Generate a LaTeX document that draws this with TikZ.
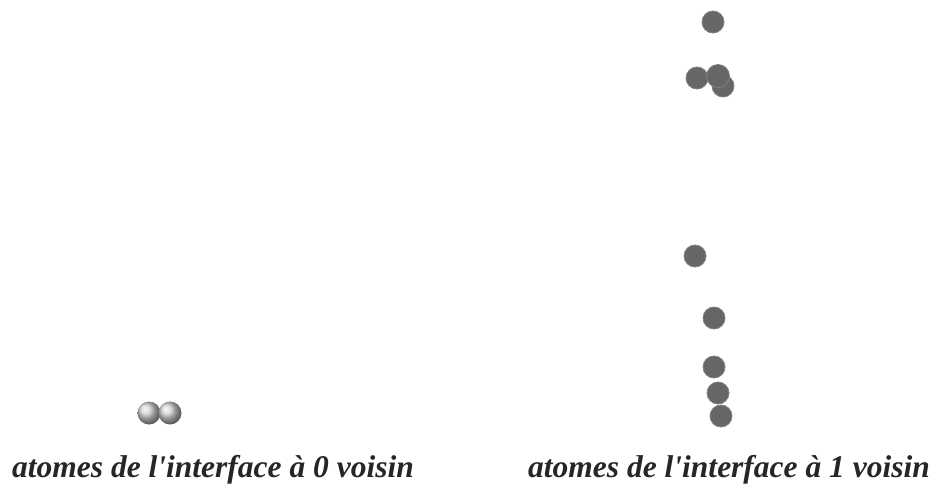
\documentclass[tikz,border=0pt]{standalone}
\usepackage{fontspec}
\newfontfamily\legendefont{Liberation Serif}
\usepackage{tikz}
\usetikzlibrary{positioning}

\begin{document}
\begin{tikzpicture}[
        x=1pt, y=-1pt,
        atome/.style={circle, inner sep=0pt, minimum size=22pt, fill=black!60, draw=black!50, line width=0.8pt},
        atomeclair/.style={circle, inner sep=0pt, minimum size=23pt, shading=ball, ball color=gray!35},
        legende/.style={font=\legendefont\fontsize{31.5}{36}\selectfont\bfseries\itshape, text=black!85, inner sep=0pt, anchor=base}
    ]
        \useasboundingbox (0,0) rectangle (939,496);

        % Interface a 0 voisin
        \node[atomeclair] (g1) at (149,413) {};
        \node[atomeclair] (g2) at (170,413) {};

        % Interface a 1 voisin
        \node[atome] (d1) at (713,22) {};
        \node[atome] (d2) at (697,78) {};
        \node[atome] (d3) at (723,86) {};
        \node[atome, minimum size=23pt] (d4) at (718,76) {};
        \node[atome] (d5) at (695,256) {};
        \node[atome] (d6) at (714,318) {};
        \node[atome] (d7) at (714,367) {};
        \node[atome] (d8) at (718,393) {};
        \node[atome] (d9) at (721,416) {};

        % Legendes
        \node[legende] (leg0) at (213,477) {atomes de l'interface à 0 voisin};
        \node[legende] (leg1) at (729,477) {atomes de l'interface à 1 voisin};
    \end{tikzpicture}
\end{document}
